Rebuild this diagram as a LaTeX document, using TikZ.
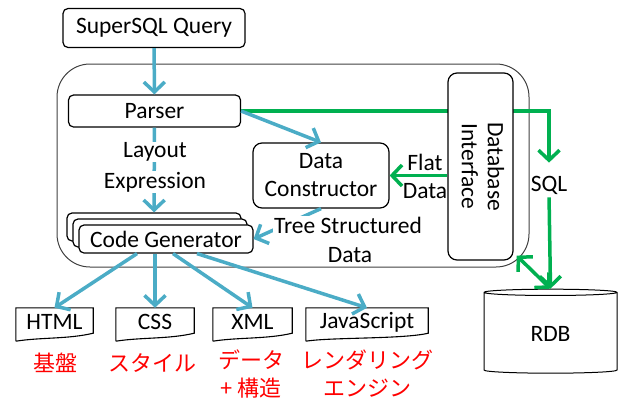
\documentclass[tikz,border=0pt]{standalone}
\usepackage{fontspec}
\setmainfont{Carlito}
\newfontfamily\jpfont{Noto Sans CJK JP}
\usetikzlibrary{arrows.meta,shapes.geometric}
\definecolor{flowblue}{HTML}{4BACC6}
\definecolor{sqlgreen}{HTML}{00B050}
\definecolor{notered}{HTML}{FF0000}

\begin{document}
\begin{tikzpicture}[x=1pt,y=-1pt,
  every node/.style={font=\fontsize{23.5}{28}\selectfont},
  box/.style={draw, line width=1.2pt, rounded corners=5pt, fill=white, inner sep=0pt, align=center},
  frame/.style={draw=black!75, line width=1pt, rounded corners=33pt, inner sep=0pt},
  doc/.style={inner sep=0pt, minimum height=28pt},
  docline/.style={line width=1.1pt},
  plain/.style={inner sep=0pt, align=center},
  jp/.style={text=notered, align=center, inner sep=0pt, font=\jpfont\fontsize{22}{28}\selectfont},
  blueflow/.style={draw=flowblue, line width=3.5pt, -{Straight Barb[length=10pt,width=21pt]}},
  greenflow/.style={draw=sqlgreen, line width=3.5pt, -{Straight Barb[length=10pt,width=21pt]}},
  greenboth/.style={draw=sqlgreen, line width=3.5pt, {Straight Barb[length=10pt,width=21pt]}-{Straight Barb[length=10pt,width=21pt]}},
]
\useasboundingbox (0,0) rectangle (623,402);

% engine frame
\node[frame, minimum width=472pt, minimum height=203pt] (engine) at (293,165.5) {};

% main blocks
\node[box, minimum width=182pt, minimum height=39pt] (query) at (154,28) {SuperSQL Query};
\node[box, minimum width=172pt, minimum height=32pt] (parser) at (154.5,111) {Parser};
\node[box, minimum width=136pt, minimum height=65pt, rounded corners=9pt] (dc) at (321,175.5) {Data\\Constructor};
\node[plain] (sql) at (549,185) {SQL};

% SQL route to the database (runs behind the interface block)
\draw[greenflow] (parser.east) -| ([yshift=13pt]sql.north);

\node[box, minimum width=65pt, minimum height=187pt, rounded corners=9pt] (dbi) at (480.5,166.5)
  {\rotatebox{-90}{\begin{tabular}{@{}c@{}}Database\\[-2pt]Interface\end{tabular}}};

% stacked code generators
\node[box, minimum width=174pt, minimum height=28pt] (cgback) at (154,227) {};
\node[box, minimum width=174pt, minimum height=28pt] (cgmid) at (160,233) {};
\node[box, minimum width=174pt, minimum height=28pt] (cg) at (166,239) {Code Generator};

% output documents
\node[doc, minimum width=77pt] (html) at (54.5,322) {HTML};
\node[doc, minimum width=78pt] (css) at (155,322) {CSS};
\node[doc, minimum width=79pt] (xml) at (252.5,322) {XML};
\node[doc, minimum width=122pt] (js) at (367,322) {JavaScript};
\foreach \d in {html,css,xml,js}
  \draw[docline] ([yshift=-5pt]\d.south west) -- (\d.north west) -- (\d.north east)
    -- ([yshift=3pt]\d.south east)
    .. controls +(-25pt,-6pt) and +(25pt,4pt) .. ([yshift=-5pt]\d.south west);

% database
\node[cylinder, shape border rotate=90, draw, line width=1pt, aspect=0.135,
      minimum width=133pt, minimum height=84pt, fill=white] (rdb) at (550.5,333.5) {\raisebox{-4pt}{RDB}};

% blue data flow
\draw[blueflow] (query) -- (parser);
\draw[blueflow] (parser.east) -- (dc.north);
\draw[blueflow] (parser) -- (cgback);
\node[plain, fill=white, inner sep=1pt] (lay1) at (155,152) {Layout};
\node[plain, fill=white, inner sep=1pt] (lay2) at (155,182) {Expression};
\draw[blueflow] (dc.south) -- (cg.east);
\node[plain, fill=white, inner sep=1pt] (tree1) at (348,225) {Tree Structured};
\node[plain] (tree2) at (350,255) {Data};

\draw[blueflow] ([xshift=-29pt]cg.south) -- (html.north);
\draw[blueflow] ([xshift=-11pt]cg.south) -- (css.north);
\draw[blueflow] ([xshift=7pt]cg.south) -- (xml.north);
\draw[blueflow] ([xshift=31pt]cg.south) -- (js.north);

% green database flow
\draw[greenflow] (dbi.west |- dc.east) -- (dc.east);
\node[plain] (flat) at (425,176) {Flat\\Data};
\draw[greenflow, shorten <=3pt] (sql.south) -- (rdb.north);
\draw[greenboth] (rdb.north) -- ([shift={(3pt,5pt)}]dbi.south east);

% captions
\node[jp] (capHtml) at (55,363) {基盤};
\node[jp] (capCss) at (152,363) {スタイル};
\node[jp] (capXml) at (251,374) {データ\\+ 構造};
\node[jp] (capJs) at (367,374) {レンダリング\\エンジン};
\end{tikzpicture}
\end{document}
